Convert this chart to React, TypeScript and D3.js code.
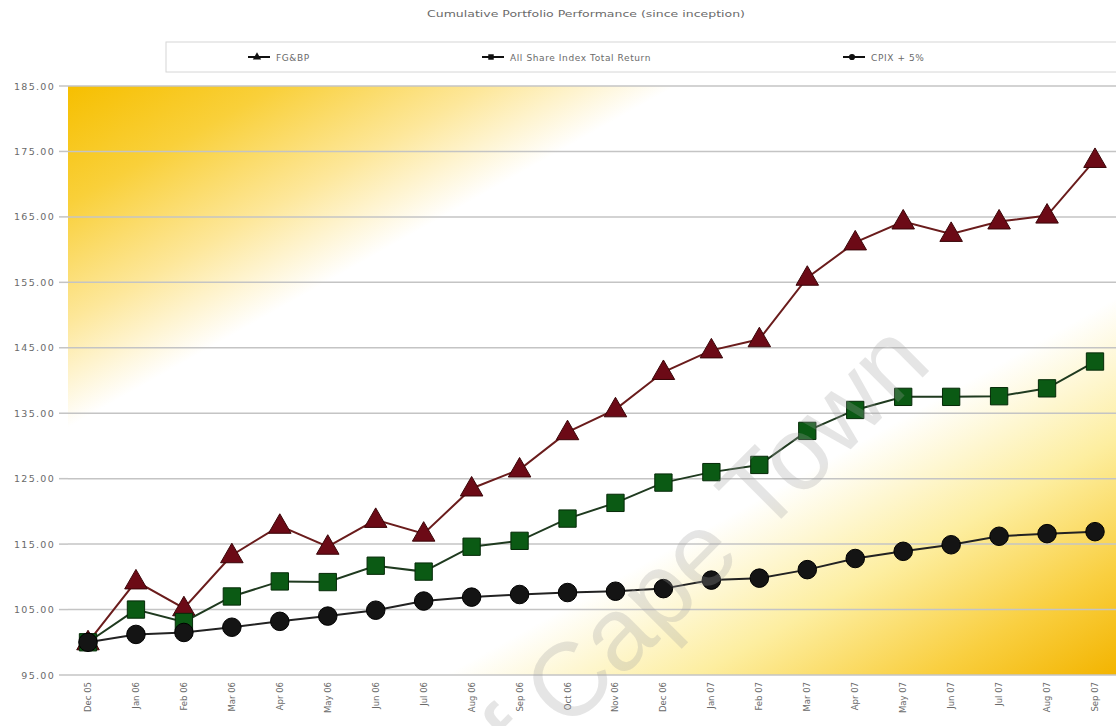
import React from "react";
import * as d3 from "d3";

const months = [
  "Dec 05", "Jan 06", "Feb 06", "Mar 06", "Apr 06", "May 06", "Jun 06", "Jul 06",
  "Aug 06", "Sep 06", "Oct 06", "Nov 06", "Dec 06", "Jan 07", "Feb 07", "Mar 07",
  "Apr 07", "May 07", "Jun 07", "Jul 07", "Aug 07", "Sep 07",
];
const portfolio = [
  100, 109.3, 105.2, 113.3, 117.8, 114.6, 118.7, 116.6, 123.5, 126.4, 132.1, 135.6,
  141.3, 144.6, 146.3, 155.7, 161.1, 164.3, 162.4, 164.3, 165.2, 173.7,
];
const allShare = [
  100, 105, 103.1, 107, 109.3, 109.2, 111.7, 110.8, 114.6, 115.5, 118.9, 121.3,
  124.4, 126, 127.1, 132.3, 135.5, 137.5, 137.5, 137.6, 138.8, 142.9,
];
const cpix = [
  100, 101.2, 101.5, 102.3, 103.2, 104, 104.9, 106.3, 106.9, 107.3, 107.6, 107.8,
  108.2, 109.5, 109.8, 111.1, 112.8, 113.9, 114.9, 116.2, 116.6, 116.9,
];
const yTicks = [95, 105, 115, 125, 135, 145, 155, 165, 175, 185];
const seriesNames = ["FG&BP", "All Share Index Total Return", "CPIX + 5%"];
const title = "Cumulative Portfolio Performance (since inception)";
const watermark = "of Cape Town";

export default function App() {
  const W = 1116, H = 726;
  const plotL = 68, plotR = 1116, plotT = 86, plotB = 675;
  const x = d3.scalePoint<string>().domain(months).range([88, 1095]);
  const y = d3.scaleLinear().domain([95, 185]).range([plotB, plotT]);
  const line = d3.line<number>().x((_, i) => x(months[i])!).y((d) => y(d));

  const series = [
    { name: seriesNames[0], data: portfolio, type: d3.symbolTriangle, size: 220, fill: "#6c0a16", stroke: "#3a0508", line: "#6a1c1c" },
    { name: seriesNames[1], data: allShare, type: d3.symbolSquare, size: 300, fill: "#0b5a14", stroke: "#062a08", line: "#1f3a1f" },
    { name: seriesNames[2], data: cpix, type: d3.symbolCircle, size: 270, fill: "#141414", stroke: "#000", line: "#222" },
  ];
  const legendX = [248, 482, 843];
  const textColor = "#6a6a6a";

  return (
    <svg width={W} height={H} style={{ position: "absolute", left: 0, top: 0, background: "#fff" }}
      fontFamily="DejaVu Sans">
      <defs>
        <linearGradient id="bg" x1="0" y1="0" x2="1" y2="1">
          <stop offset="0" stopColor="#f6bf00" />
          <stop offset="0.1" stopColor="#f9d03a" />
          <stop offset="0.2" stopColor="#fde79a" />
          <stop offset="0.29" stopColor="#ffffff" />
          <stop offset="0.68" stopColor="#ffffff" />
          <stop offset="0.8" stopColor="#fdeea0" />
          <stop offset="0.91" stopColor="#f9cf40" />
          <stop offset="1" stopColor="#f3b400" />
        </linearGradient>
      </defs>
      <rect x={0} y={0} width={W} height={H} fill="#fff" />
      <text x={586} y={17} fontSize={9} fill={textColor} textAnchor="middle" textLength={318} lengthAdjust="spacingAndGlyphs">{title}</text>

      {/* legend */}
      <rect x={166} y={42} width={960} height={30} fill="#fff" stroke="#d6d6d6" strokeWidth={1} />
      {series.map((s, i) => (
        <g key={s.name} transform={`translate(${legendX[i]},57)`}>
          <line x1={0} x2={22} y1={0} y2={0} stroke="#111" strokeWidth={2} />
          <path d={d3.symbol().type(s.type).size(30)()!} transform="translate(9,0)" fill="#111" />
          <text x={28} y={3.5} fontSize={9} fill={textColor} letterSpacing={0.6}>{s.name}</text>
        </g>
      ))}

      {/* plot background */}
      <rect x={plotL} y={plotT} width={plotR - plotL} height={plotB - plotT} fill="url(#bg)" />

      {/* grid and y axis */}
      {yTicks.map((t) => (
        <g key={t}>
          <line x1={plotL} x2={plotR} y1={y(t)} y2={y(t)} stroke="#c4c4c4" strokeWidth={1.5} />
          <line x1={59} x2={plotL} y1={y(t)} y2={y(t)} stroke="#c4c4c4" strokeWidth={1.5} />
          <text x={55} y={y(t) + 3.5} fontSize={9.5} fill={textColor} textAnchor="end" letterSpacing={1.3}>{t.toFixed(2)}</text>
        </g>
      ))}

      {/* x labels */}
      {months.map((m) => (
        <text key={m} transform={`translate(${x(m)! + 3},682) rotate(-90)`} fontSize={8.5} fill={textColor} textAnchor="end">{m}</text>
      ))}

      {/* series */}
      {series.map((s) => (
        <g key={s.name}>
          <path d={line(s.data)!} fill="none" stroke={s.line} strokeWidth={2} />
          {s.data.map((v, i) => (
            <path key={i} d={d3.symbol().type(s.type).size(s.size)()!}
              transform={`translate(${x(months[i])},${y(v) + (s.type === d3.symbolTriangle ? 1 : 0)})`}
              fill={s.fill} stroke={s.stroke} strokeWidth={1} />
          ))}
        </g>
      ))}

      {/* watermark */}
      <text transform="translate(934,366) rotate(-45)" textAnchor="end" fontFamily="Liberation Sans" fontSize={104}
        fill="#a0a0a0" fillOpacity={0.28}>{watermark}</text>
    </svg>
  );
}
